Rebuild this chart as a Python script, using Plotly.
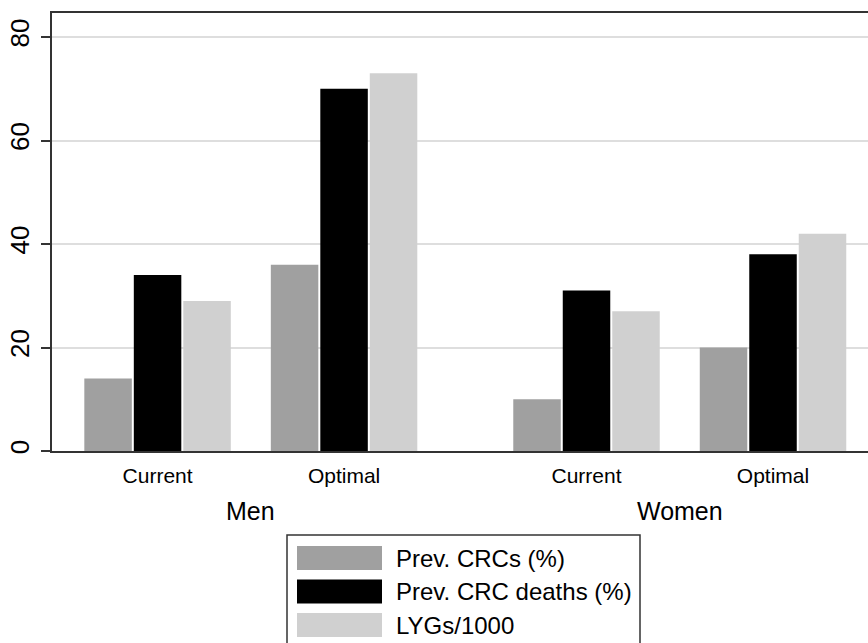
import plotly.graph_objects as go

# ---- data ----
sexes = ["Men", "Women"]
scenarios = ["Current", "Optimal"]
series_names = ["Prev. CRCs (%)", "Prev. CRC deaths (%)", "LYGs/1000"]
prev_crcs = [14, 36, 10, 20]
prev_deaths = [34, 70, 31, 38]
lygs = [29, 73, 27, 42]
series_values = [prev_crcs, prev_deaths, lygs]
series_colors = ["#a0a0a0", "#000000", "#d0d0d0"]
y_ticks = [0, 20, 40, 60, 80]

# ---- layout helpers ----
W, H = 868, 643
ML, MR, MT, MB = 52, 0, 13, 192
PW, PH = W - ML - MR, H - MT - MB
group_gap = 1.3  # distance between the two sex groups (in slot units)

x_pos, x_txt = [], []
for si, sex in enumerate(sexes):
    for ci, sc in enumerate(scenarios):
        x_pos.append(si * (len(scenarios) - 1 + group_gap) + ci)
        x_txt.append(sc)

FONT = "Liberation Sans, Arial, Helvetica, sans-serif"

fig = go.Figure()
for name, vals, col in zip(series_names, series_values, series_colors):
    fig.add_trace(go.Bar(x=x_pos, y=vals, name=name, marker_color=col,
                         marker_line_width=0, showlegend=False, hoverinfo="skip"))

def px_to_paper_x(px):
    return (px - ML) / PW

def px_to_paper_y(py):
    return (H - MB - py) / PH

annotations = []
shapes = []
n_sc = len(scenarios)
for si, sex in enumerate(sexes):
    grp = x_pos[si * n_sc:(si + 1) * n_sc]
    annotations.append(dict(x=sum(grp) / len(grp), xref="x", y=px_to_paper_y(511), yref="paper",
                            text=sex, showarrow=False, xanchor="center", yanchor="middle",
                            font=dict(size=25, color="#000000", family=FONT)))

# custom legend (Stata style)
box_l, box_r, box_t, box_b = 287, 640, 535, 680
shapes.append(dict(type="rect", xref="paper", yref="paper",
                   x0=px_to_paper_x(box_l), x1=px_to_paper_x(box_r),
                   y0=px_to_paper_y(box_b), y1=px_to_paper_y(box_t),
                   line=dict(color="#333333", width=1.5), fillcolor="white", layer="above"))
row0, row_step, sw_h = 558, 33.5, 24
for i, (name, col) in enumerate(zip(series_names, series_colors)):
    cy = row0 + i * row_step
    shapes.append(dict(type="rect", xref="paper", yref="paper",
                       x0=px_to_paper_x(297), x1=px_to_paper_x(382),
                       y0=px_to_paper_y(cy + sw_h / 2), y1=px_to_paper_y(cy - sw_h / 2),
                       line=dict(width=0), fillcolor=col, layer="above"))
    annotations.append(dict(x=px_to_paper_x(394), xref="paper", y=px_to_paper_y(cy), yref="paper",
                            text=name, showarrow=False, xanchor="left", yanchor="middle",
                            font=dict(size=24, color="#000000", family=FONT)))

x_lo = -0.566
x_hi = x_lo + PW / 186.5

fig.update_layout(
    width=W, height=H,
    margin=dict(l=ML, r=MR, t=MT, b=MB),
    paper_bgcolor="white", plot_bgcolor="white",
    barmode="group", bargap=0.204, bargroupgap=0.04,
    font=dict(family=FONT, color="#000000"),
    hovermode=False,
    xaxis=dict(range=[x_lo, x_hi], tickvals=x_pos, ticktext=x_txt, ticks="",
               showgrid=False, zeroline=False, showline=True, linecolor="#333333",
               linewidth=2, mirror=True, tickfont=dict(size=21, family=FONT),
               ticklabelstandoff=5),
    yaxis=dict(range=[0, (H - MB - MT) / 5.175], tickvals=y_ticks, ticks="outside",
               ticklen=9, tickwidth=2, tickcolor="#333333", showgrid=True,
               gridcolor="#dedede", gridwidth=2, zeroline=False, showline=True,
               linecolor="#333333", linewidth=2, tickangle=-90,
               tickfont=dict(size=26, family=FONT), ticklabelstandoff=2),
    annotations=annotations,
    shapes=shapes,
)

fig.write_html("out.html", config={"displayModeBar": False},
               post_script="document.body.style.margin='0';document.body.style.overflow='hidden';")
